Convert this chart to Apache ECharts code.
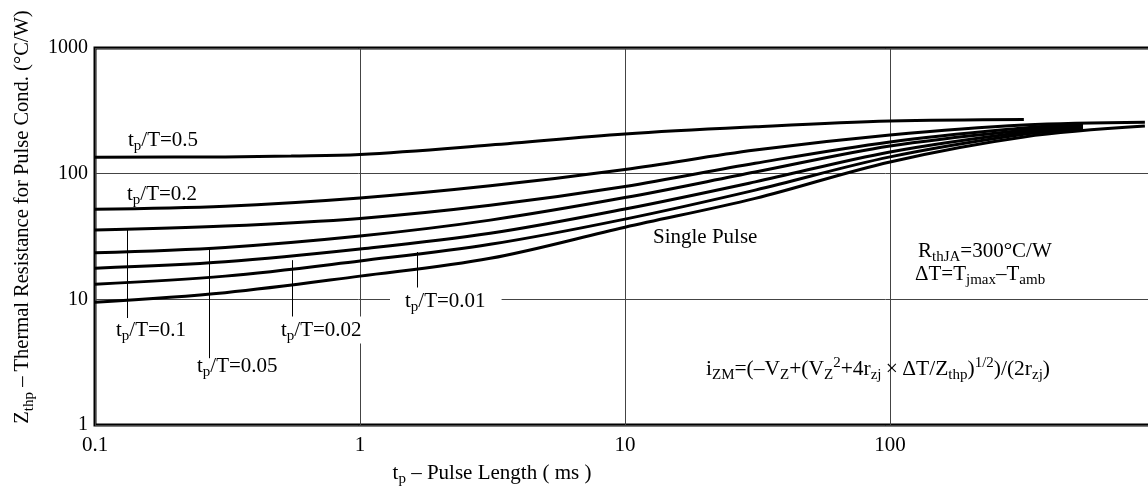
<!DOCTYPE html>
<html>
<head>
<meta charset="utf-8">
<title>Zthp vs pulse length</title>
<script src="https://cdn.jsdelivr.net/npm/echarts@6/dist/echarts.min.js"></script>
<style>
  html, body { margin: 0; padding: 0; background: #fff; }
  #chart { width: 1148px; height: 493px; }
</style>
</head>
<body>
<div id="chart"></div>
<script>
// curves: [tp (ms), Zthp (°C/W)]
const duty05 = [[0.1, 135], [0.31, 136], [0.55, 138], [1, 142], [3.1, 169], [10, 207], [31, 236], [100, 262], [320, 270]];
const duty02 = [[0.1, 52], [0.31, 55], [1, 64], [3.1, 80], [10, 108], [31, 154], [100, 203], [320, 244], [916, 257]];
const duty01 = [[0.1, 35.6], [0.31, 38.3], [1, 44], [3.1, 56], [10, 79], [31, 121], [100, 179], [320, 231], [535, 248]];
const duty005 = [[0.1, 23.5], [0.31, 25.9], [1, 31.9], [3.1, 42.7], [10, 64.5], [31, 103], [100, 166], [320, 222], [535, 239]];
const duty002 = [[0.1, 17.7], [0.31, 19.9], [1, 25.1], [3.1, 33.5], [10, 52.3], [31, 86], [100, 149], [320, 214], [535, 232]];
const duty001 = [[0.1, 13.2], [0.31, 15.3], [1, 20.2], [3.1, 27.4], [10, 43.5], [31, 74], [100, 136], [320, 206], [535, 224]];
const singlePulse = [[0.1, 9.5], [0.31, 11.3], [1, 15.3], [3.1, 21.2], [10, 37.5], [31, 63.6], [100, 124], [320, 196], [916, 239]];

// leader lines from labels to curves: [tp, Z top, Z bottom]
const leader01 = [0.132, 36, 7.1];
const leader005 = [0.269, 25, 3.4];
const leader002 = [0.554, 20.5, 7.1];
const leader001 = [1.64, 23.8, 11.9];

const xTicks = [0.1, 1, 10, 100, 1000];
const yTicks = [1, 10, 100, 1000];

const serif = '"Liberation Serif", "Times New Roman", serif';
const rich = {
  s: { fontSize: 15, fontFamily: serif, padding: [12, 0, 0, 0], fill: '#000' },
  p: { fontSize: 15, fontFamily: serif, padding: [0, 0, 12, 0], fill: '#000' }
};

function label(text, x, y, extra) {
  return {
    type: 'text',
    x: x,
    y: y,
    z: 100,
    style: Object.assign({
      text: text,
      rich: rich,
      font: '21px ' + serif,
      fill: '#000',
      align: 'left',
      verticalAlign: 'middle'
    }, extra || {})
  };
}

function leader(l) {
  return [{ coord: [l[0], l[1]] }, { coord: [l[0], l[2]] }];
}

function curve(data, leaders) {
  const s = {
    type: 'line',
    data: data,
    smooth: 0.35,
    symbol: 'none',
    lineStyle: { color: '#000', width: 3 },
    z: 5
  };
  if (leaders) {
    s.markLine = {
      silent: true,
      symbol: ['none', 'none'],
      label: { show: false },
      lineStyle: { color: '#000', width: 1, type: 'solid' },
      data: leaders.map(leader)
    };
  }
  return s;
}

const chart = echarts.init(document.getElementById('chart'));
chart.setOption({
  animation: false,
  backgroundColor: '#fff',
  grid: {
    left: 95, top: 48, bottom: 68, right: -7,
    show: true, borderColor: '#000', borderWidth: 3,
    outerBoundsMode: 'none'
  },
  xAxis: {
    type: 'log', logBase: 10, min: xTicks[0], max: xTicks[xTicks.length - 1],
    axisLine: { show: false }, axisTick: { show: false },
    splitLine: { show: true, lineStyle: { color: '#444', width: 1 } },
    axisLabel: {
      margin: 10, color: '#000', fontSize: 21, fontFamily: serif,
      showMaxLabel: false, showMinLabel: true,
      formatter: function (v) { return String(v); }
    }
  },
  yAxis: {
    type: 'log', logBase: 10, min: yTicks[0], max: yTicks[yTicks.length - 1],
    axisLine: { show: false }, axisTick: { show: false },
    splitLine: { show: true, lineStyle: { color: '#444', width: 1 } },
    axisLabel: {
      margin: 7, color: '#000', fontSize: 20, fontFamily: serif,
      formatter: function (v) { return String(v); }
    }
  },
  series: [
    curve(duty05),
    curve(duty02),
    curve(duty01, [leader01]),
    curve(duty005, [leader005]),
    curve(duty002, [leader002]),
    curve(duty001, [leader001]),
    curve(singlePulse)
  ],
  graphic: [
    label('t{s|p}/T=0.5', 128, 140),
    label('t{s|p}/T=0.2', 127, 194),
    label('t{s|p}/T=0.1', 116, 330),
    label('t{s|p}/T=0.05', 197, 366),
    label('t{s|p}/T=0.02', 281, 330, { backgroundColor: '#fff', padding: [0, 0, 0, 0] }),
    label('t{s|p}/T=0.01', 390, 301, { backgroundColor: '#fff', padding: [0, 16, 0, 15] }),
    label('Single Pulse', 653, 237),
    label('R{s|thJA}=300°C/W', 918, 251),
    label('ΔT=T{s|jmax}–T{s|amb}', 915, 274),
    label('i{s|ZM}=(–V{s|Z}+(V{s|Z}{p|2}+4r{s|zj}\u2009×\u2009ΔT/Z{s|thp}){p|1/2})/(2r{s|zj})', 706, 369, { font: '21.5px ' + serif }),
    label('t{s|p} – Pulse Length ( ms )', 492, 473, { align: 'center' }),
    Object.assign(label('Z{s|thp} – Thermal Resistance for Pulse Cond. (°C/W)', 23, 217, { align: 'center', font: '20.5px ' + serif }), { rotation: Math.PI / 2 })
  ]
});
</script>
</body>
</html>
